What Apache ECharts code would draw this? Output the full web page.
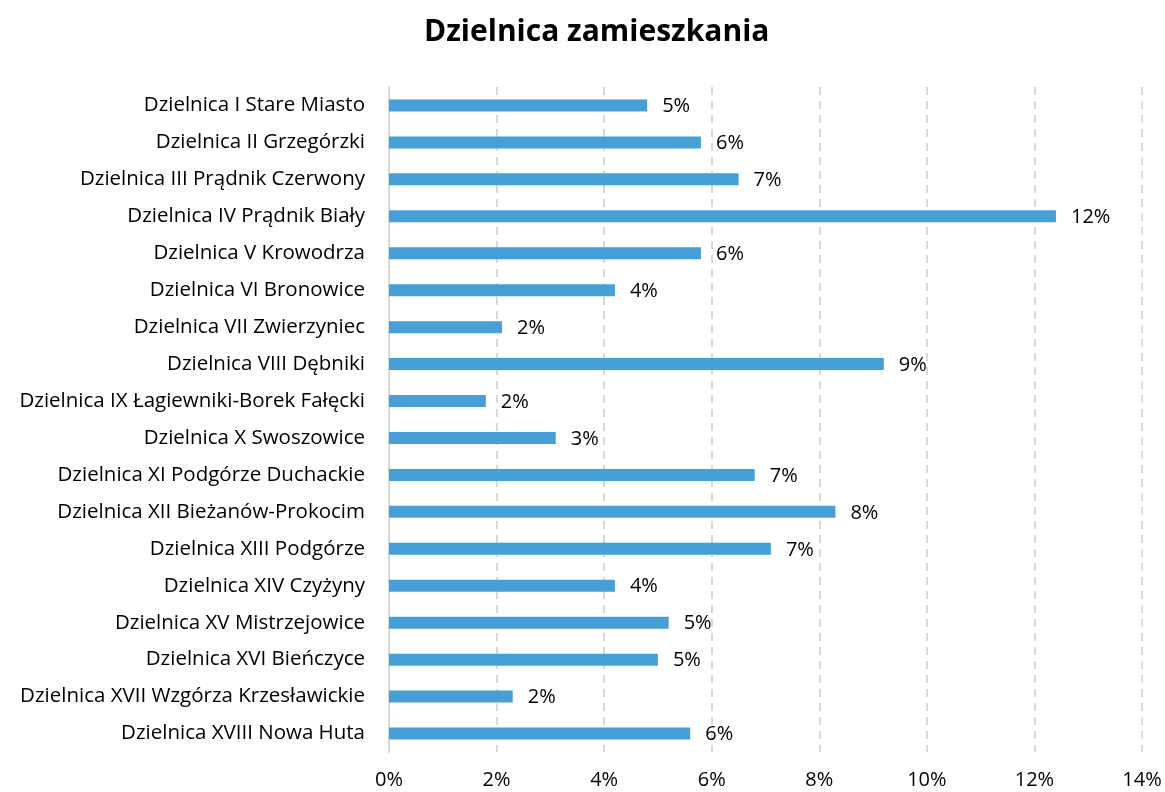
<!DOCTYPE html>
<html>
<head>
<meta charset="utf-8">
<script src="https://cdn.jsdelivr.net/npm/echarts@6/dist/echarts.min.js"></script>
<style>
html,body{margin:0;padding:0;background:#fff;}
#chart{width:1165px;height:792px;}
</style>
</head>
<body>
<div id="chart"></div>
<script>
const categories = [
  "Dzielnica I Stare Miasto",
  "Dzielnica II Grzegórzki",
  "Dzielnica III Prądnik Czerwony",
  "Dzielnica IV Prądnik Biały",
  "Dzielnica V Krowodrza",
  "Dzielnica VI Bronowice",
  "Dzielnica VII Zwierzyniec",
  "Dzielnica VIII Dębniki",
  "Dzielnica IX Łagiewniki-Borek Fałęcki",
  "Dzielnica X Swoszowice",
  "Dzielnica XI Podgórze Duchackie",
  "Dzielnica XII Bieżanów-Prokocim",
  "Dzielnica XIII Podgórze",
  "Dzielnica XIV Czyżyny",
  "Dzielnica XV Mistrzejowice",
  "Dzielnica XVI Bieńczyce",
  "Dzielnica XVII Wzgórza Krzesławickie",
  "Dzielnica XVIII Nowa Huta"
];
const values = [4.8, 5.8, 6.5, 12.4, 5.8, 4.2, 2.1, 9.2, 1.8, 3.1, 6.8, 8.3, 7.1, 4.2, 5.2, 5.0, 2.3, 5.6];
const xTicks = [0, 2, 4, 6, 8, 10, 12, 14];

const FONT = '"Open Sans", sans-serif';
const chart = echarts.init(document.getElementById('chart'), null, {renderer: 'canvas'});
chart.setOption({
  animation: false,
  backgroundColor: '#ffffff',
  title: {
    text: 'Dzielnica zamieszkania',
    left: 419,
    top: 12,
    textStyle: {fontFamily: FONT, fontSize: 30, fontWeight: 'bold', color: '#000'}
  },
  grid: {left: 389, right: 23, top: 87, bottom: 40, containLabel: false},
  xAxis: {
    type: 'value',
    min: xTicks[0],
    max: xTicks[xTicks.length - 1],
    interval: 2,
    axisLine: {show: false},
    axisTick: {show: false},
    axisLabel: {
      formatter: v => v + '%',
      fontFamily: FONT, fontSize: 20, color: '#000', margin: 18
    },
    splitLine: {show: true, lineStyle: {color: '#d9d9d9', type: [8, 6], width: 2}}
  },
  yAxis: {
    type: 'category',
    data: categories,
    inverse: true,
    axisLine: {show: true, lineStyle: {color: '#d9d9d9', width: 2}},
    axisTick: {show: false},
    axisLabel: {fontFamily: FONT, fontSize: 20.5, color: '#000', margin: 24}
  },
  series: [{
    type: 'bar',
    data: values,
    barWidth: 12,
    itemStyle: {color: '#479fd8'},
    label: {
      show: true,
      position: 'right',
      distance: 15,
      formatter: p => Math.round(p.value) + '%',
      fontFamily: FONT, fontSize: 20, color: '#000',
      offset: [0, 1]
    }
  }]
});
</script>
</body>
</html>
